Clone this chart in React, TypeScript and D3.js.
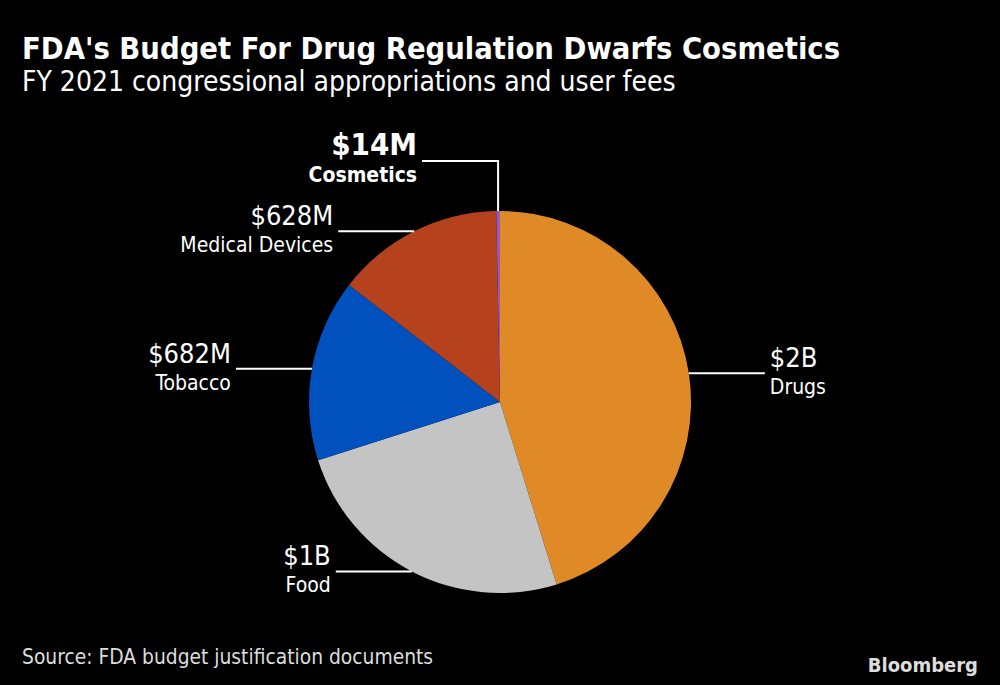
import * as d3 from 'd3';
import { useEffect } from 'react';

// FY 2021 FDA budget by program, $ millions
const categories = ['Drugs', 'Food', 'Tobacco', 'Medical Devices', 'Cosmetics'];
const values = [2000, 1100, 682, 628, 14];
const valueLabels = ['$2B', '$1B', '$682M', '$628M', '$14M'];
const colors = ['#DF8A26', '#C4C4C4', '#0050BE', '#B5411D', '#9B59B6'];

const FONT = '"DejaVu Sans Condensed", "DejaVu Sans", sans-serif';

interface Slice {
  name: string;
  value: number;
  label: string;
  color: string;
}

const slices: Slice[] = categories.map((name, i) => ({
  name,
  value: values[i],
  label: valueLabels[i],
  color: colors[i],
}));

export default function App() {
  useEffect(() => {
    document.body.style.margin = '0';
    document.body.style.background = '#000';
  }, []);

  const width = 1000;
  const height = 685;
  const cx = 500;
  const cy = 402;
  const r = 191;

  const pie = d3.pie<Slice>().value((d) => d.value).sort(null);
  const arcs = pie(slices);
  const arc = d3.arc<d3.PieArcDatum<Slice>>().innerRadius(0).outerRadius(r);

  const leader = 76;

  return (
    <svg width={width} height={height} style={{ display: 'block', background: '#000', fontFamily: FONT }}>
      <text x={22} y={59} fill="#fff" fontSize={30.6} fontWeight="bold">
        FDA's Budget For Drug Regulation Dwarfs Cosmetics
      </text>
      <text x={22} y={91} fill="#fff" fontSize={28}>
        FY 2021 congressional appropriations and user fees
      </text>

      <g transform={`translate(${cx},${cy})`}>
        {arcs.map((a) => (
          <path key={a.data.name} d={arc(a) ?? ''} fill={a.data.color} />
        ))}

        {arcs.map((a) => {
          const mid = (a.startAngle + a.endAngle) / 2;
          const px = r * Math.sin(mid);
          const py = -r * Math.cos(mid);
          if (mid > Math.PI * 1.95) {
            // tiny slice at the top: elbow up then left
            const ly = py - 50;
            return (
              <g key={a.data.name}>
                <polyline
                  points={`${px},${py} ${px},${ly} ${px - leader},${ly}`}
                  fill="none"
                  stroke="#fff"
                  strokeWidth={2}
                />
                <text x={px - leader - 5} y={ly - 6} fill="#fff" fontSize={31} fontWeight="bold" textAnchor="end">
                  {a.data.label}
                </text>
                <text x={px - leader - 5} y={ly + 21} fill="#fff" fontSize={21} fontWeight="bold" textAnchor="end">
                  {a.data.name}
                </text>
              </g>
            );
          }
          const left = px < 0;
          const ex = left ? px - leader : px + leader;
          const tx = left ? ex - 5 : ex + 5;
          const anchor = left ? 'end' : 'start';
          return (
            <g key={a.data.name}>
              <line x1={px} y1={py} x2={ex} y2={py} stroke="#fff" strokeWidth={2} />
              <text x={tx} y={py - 6} fill="#fff" fontSize={27} textAnchor={anchor}>
                {a.data.label}
              </text>
              <text x={tx} y={py + 21} fill="#fff" fontSize={21} textAnchor={anchor}>
                {a.data.name}
              </text>
            </g>
          );
        })}
      </g>

      <text x={22} y={664} fill="#ddd" fontSize={20.8}>
        Source: FDA budget justification documents
      </text>
      <text x={978} y={672} fill="#ddd" fontSize={20} fontWeight="bold" textAnchor="end">
        Bloomberg
      </text>
    </svg>
  );
}
